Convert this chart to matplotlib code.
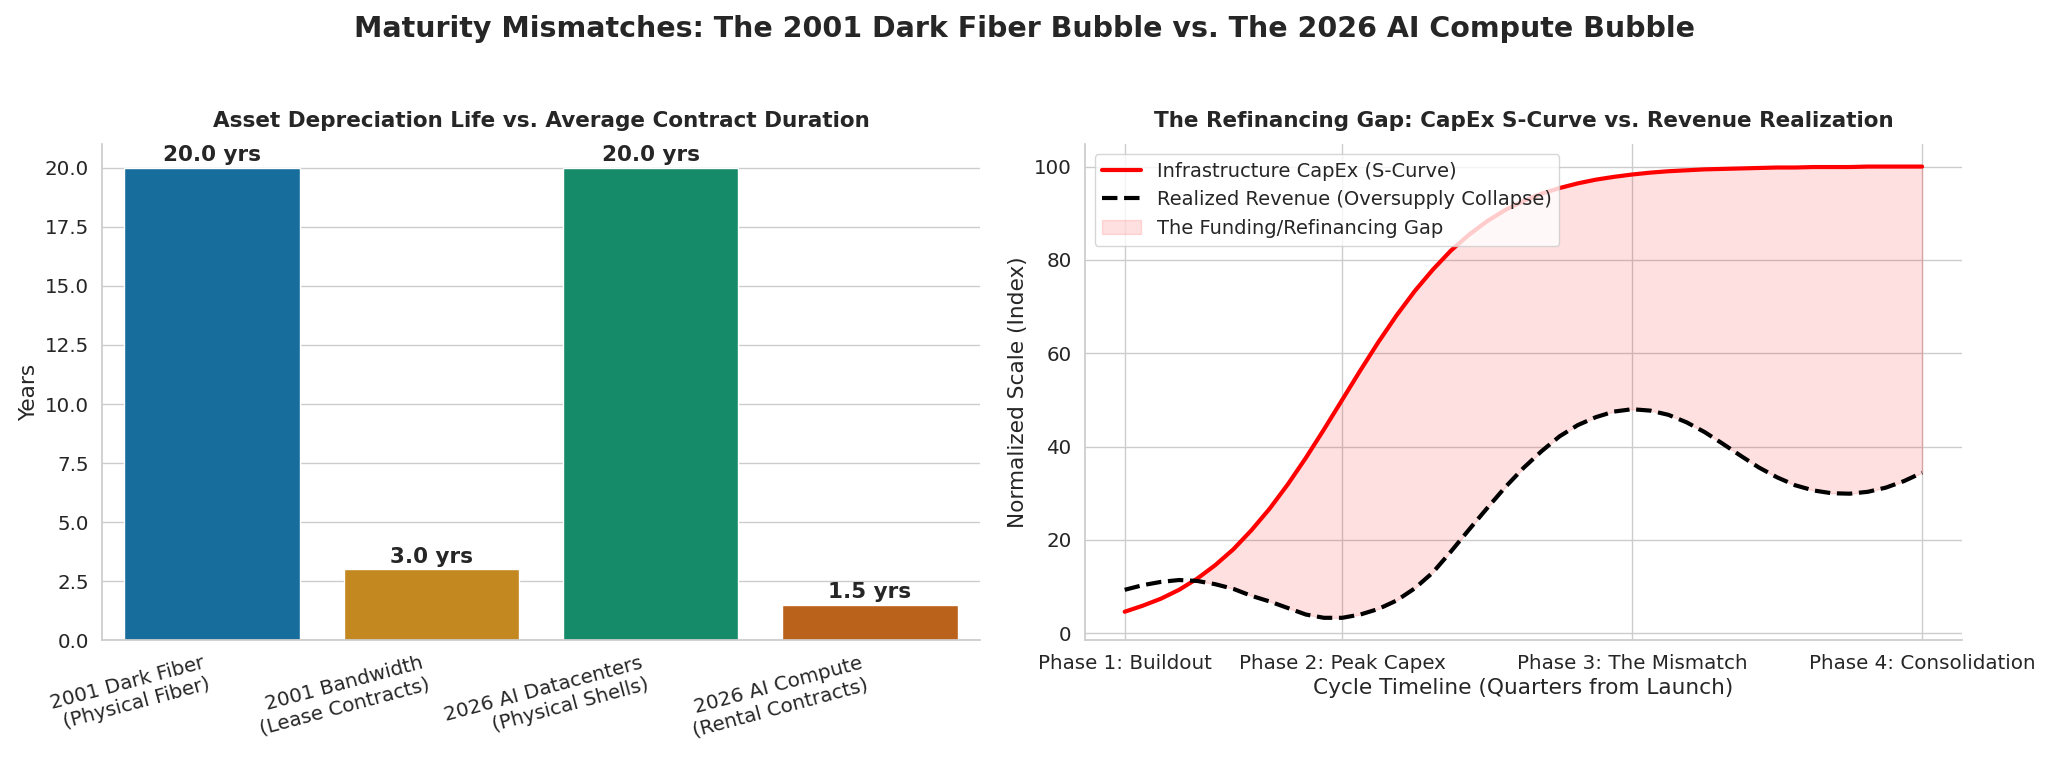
import numpy as np
import matplotlib
matplotlib.use("Agg")
import matplotlib.pyplot as plt
import seaborn as sns

# Left panel data
categories = ["2001 Dark Fiber\n(Physical Fiber)", "2001 Bandwidth\n(Lease Contracts)",
              "2026 AI Datacenters\n(Physical Shells)", "2026 AI Compute\n(Rental Contracts)"]
years = [20.0, 3.0, 20.0, 1.5]

# Right panel data, every half quarter
quarters = [0.0, 0.5, 1.0, 1.5, 2.0, 2.5, 3.0, 3.5, 4.0, 4.5, 5.0, 5.5, 6.0, 6.5, 7.0, 7.5,
            8.0, 8.5, 9.0, 9.5, 10.0, 10.5, 11.0, 11.5, 12.0, 12.5, 13.0, 13.5, 14.0, 14.5,
            15.0, 15.5, 16.0, 16.5, 17.0, 17.5, 18.0, 18.5, 19.0, 19.5, 20.0, 20.5, 21.0,
            21.5, 22.0]
capex = [4.6, 5.9, 7.4, 9.3, 11.7, 14.6, 18.0, 22.1, 26.7, 31.9, 37.6, 43.7, 50.0, 56.3,
         62.4, 68.1, 73.3, 77.9, 82.0, 85.4, 88.3, 90.7, 92.6, 94.2, 95.4, 96.4, 97.2, 97.8,
         98.3, 98.7, 99.0, 99.2, 99.4, 99.5, 99.6, 99.7, 99.8, 99.8, 99.9, 99.9, 99.9, 100.0,
         100.0, 100.0, 100.0]
revenue = [9.3, 10.3, 11.0, 11.4, 11.2, 10.5, 9.5, 8.0, 6.8, 5.4, 4.0, 3.3, 3.3, 4.0, 5.2,
           7.0, 9.6, 13.0, 17.5, 22.2, 26.8, 31.3, 35.4, 39.0, 42.2, 44.6, 46.3, 47.5, 48.0,
           47.7, 46.8, 45.2, 43.1, 40.6, 38.0, 35.5, 33.4, 31.7, 30.6, 30.0, 29.9, 30.3, 31.2,
           32.6, 34.4]
phase_ticks = [0, 6, 14, 22]
phase_labels = ["Phase 1: Buildout", "Phase 2: Peak Capex", "Phase 3: The Mismatch",
                "Phase 4: Consolidation"]

sns.set_theme(style="whitegrid", font_scale=1.3)
plt.rcParams['font.family'] = ['DejaVu Sans']

fig, (ax1, ax2) = plt.subplots(1, 2, figsize=(20.48, 7.66), dpi=100)
fig.subplots_adjust(left=0.05, right=0.958, bottom=0.164, top=0.812, wspace=0.12)

# Bar chart
sns.barplot(x=categories, y=years, hue=categories, palette="colorblind", legend=False, ax=ax1)
for i, v in enumerate(years):
    ax1.text(i, v + 0.12, f"{v:.1f} yrs", ha="center", va="bottom", fontsize=15.5, fontweight="bold")
ax1.set_title("Asset Depreciation Life vs. Average Contract Duration", fontsize=15.5,
              fontweight="bold", pad=12)
ax1.set_ylabel("Years")
ax1.tick_params(axis="x", rotation=15)
for lbl in ax1.get_xticklabels():
    lbl.set_ha("right")

# Refinancing gap
q = np.array(quarters)
c = np.array(capex)
r = np.array(revenue)
ax2.plot(q, c, color="red", linewidth=3, label="Infrastructure CapEx (S-Curve)")
ax2.plot(q, r, color="black", linewidth=3, linestyle="--", label="Realized Revenue (Oversupply Collapse)")
ax2.fill_between(q, c, r, where=c >= r, interpolate=True, color="red", alpha=0.12,
                 label="The Funding/Refinancing Gap")
ax2.set_xticks(phase_ticks)
ax2.set_xticklabels(phase_labels)
ax2.set_title("The Refinancing Gap: CapEx S-Curve vs. Revenue Realization", fontsize=15.5,
              fontweight="bold", pad=12)
ax2.set_xlabel("Cycle Timeline (Quarters from Launch)")
ax2.set_ylabel("Normalized Scale (Index)")
ax2.legend(loc="upper left", fontsize=14)

sns.despine()
fig.suptitle("Maturity Mismatches: The 2001 Dark Fiber Bubble vs. The 2026 AI Compute Bubble",
             fontsize=20.5, fontweight="bold", y=0.98)
fig.savefig("out.png")
